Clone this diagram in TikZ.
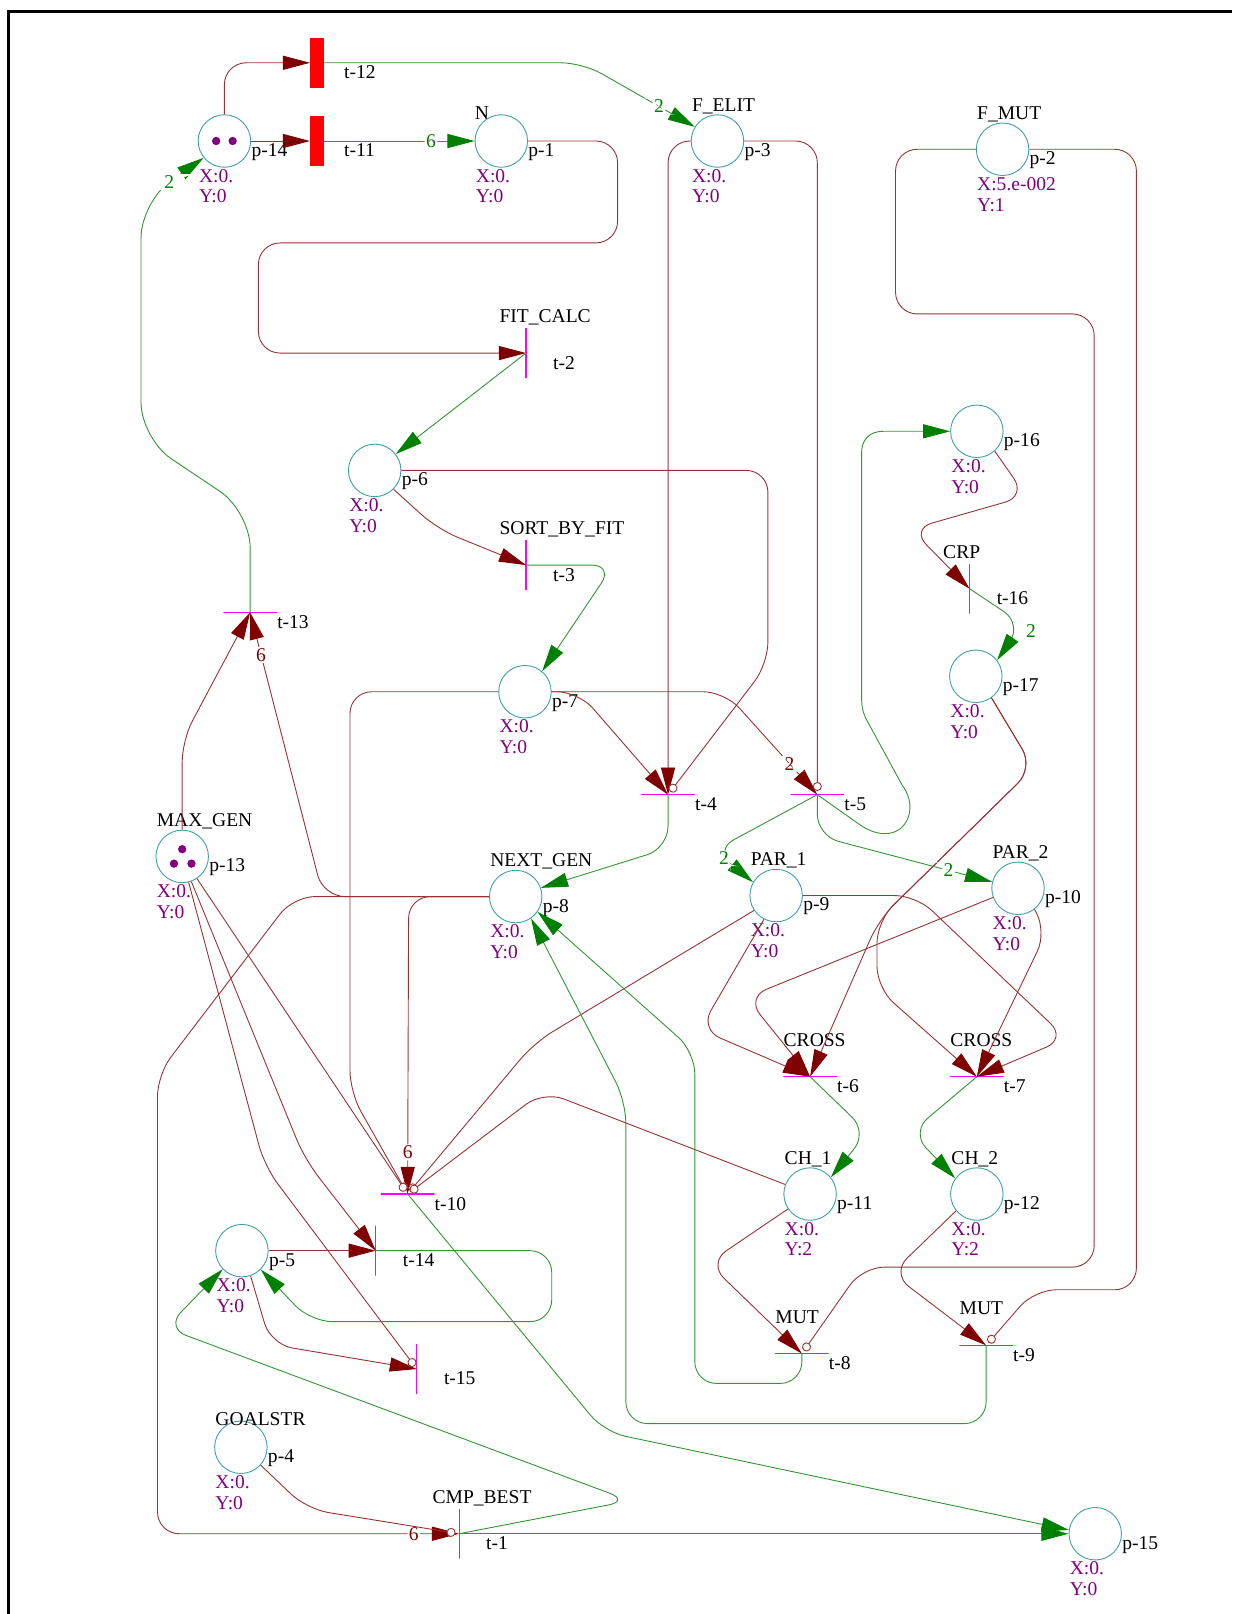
\documentclass[tikz,border=0pt]{standalone}
\usepackage{fontspec}
\setmainfont{Liberation Serif}
\usetikzlibrary{arrows.meta}
\definecolor{plc}{RGB}{64,160,168}
\definecolor{trc}{RGB}{255,0,255}
\definecolor{inl}{RGB}{155,50,50}
\definecolor{inh}{RGB}{128,0,0}
\definecolor{outl}{RGB}{50,150,50}
\definecolor{outh}{RGB}{0,128,0}
\definecolor{tok}{RGB}{128,0,128}

\begin{document}
\begin{tikzpicture}[x=0.02cm, y=-0.02cm, font=\fontsize{10.8}{12}\selectfont,
 place/.style={circle, draw=plc, line width=0.5pt, minimum size=1.02cm, inner sep=0pt},
 vtr/.style={draw=trc, line width=0.6pt, rectangle, minimum width=0pt, minimum height=0.97cm, inner sep=0pt},
 htr/.style={draw=trc, line width=0.8pt, rectangle, minimum width=1.04cm, minimum height=0pt, inner sep=0pt},
 bar/.style={fill=red, rectangle, minimum width=0.26cm, minimum height=0.97cm, inner sep=0pt},
 arcin/.style={draw=inl, line width=0.5pt, rounded corners=12pt, -{Triangle[length=15pt, width=7.8pt, color=inh]}},
 arcout/.style={draw=outl, line width=0.5pt, rounded corners=12pt, -{Triangle[length=15pt, width=7.8pt, color=outh]}},
 arcinh/.style={draw=inl, line width=0.5pt, rounded corners=12pt, shorten >=2pt, -{Circle[length=5pt, color=inl, fill=white]}},
 lbl/.style={anchor=base west, inner sep=0pt},
 val/.style={lbl, text=tok},
 wtr/.style={fill=white, inner sep=0.8pt, text=inh},
 wtg/.style={fill=white, inner sep=0.8pt, text=outh}]
\useasboundingbox (0,0) rectangle (1197,1568);
\draw[line width=1.5pt] (8,1568) -- (8,11) -- (1197,11);

% places
\foreach \n/\cx/\cy/\vx/\vy in {14/218/137/0./0, 1/487/137/0./0, 3/697/137/0./0, 2/974/145/5.e-002/1,
 6/364/457/0./0, 7/510/672/0./0, 16/949/419/0./0, 17/948/657/0./0,
 13/177/832/0./0, 8/501/871/0./0, 9/754/870/0./0, 10/989/863/0./0,
 11/787/1160/0./2, 12/949/1160/0./2, 5/235/1215/0./0, 4/234/1406/0./0, 15/1064/1490/0./0}
{
 \node[place] (p\n) at (\cx,\cy) {};
 \node[lbl] at ([shift={(26,15)}]p\n.center) {p-\n};
 \node[val] at ([shift={(-25,40)}]p\n.center) {X:\vx};
 \node[val] at ([shift={(-25,60)}]p\n.center) {Y:\vy};
}
\node[lbl] at ([shift={(-26,-21)}]p1.center) {N};
\node[lbl] at ([shift={(-25,-21)}]p4.center) {GOALSTR};
\foreach \n/\txt in {3/F\_ELIT, 2/F\_MUT, 13/MAX\_GEN, 8/NEXT\_GEN, 9/PAR\_1, 10/PAR\_2, 11/CH\_1, 12/CH\_2}
 \node[lbl] at ([shift={(-25,-29)}]p\n.center) {\txt};

% tokens
\foreach \dx in {-8,8}
 \fill[tok] ([shift={(\dx,0)}]p14.center) circle (2.3pt);
\foreach \dx/\dy in {0/-7,-8/7,9/7}
 \fill[tok] ([shift={(\dx,\dy)}]p13.center) circle (2.3pt);

% transitions
\foreach \n/\cx/\cy/\s in {2/511/343/vtr, 3/511/549/vtr, 16/942/572/vtr, 14/365/1215/vtr, 15/405/1330/vtr,
 1/446/1490/vtr, 13/243/595/htr, 4/649/772/htr, 5/794/772/htr, 6/787/1046/htr, 7/949/1046/htr,
 10/396/1160/htr, 8/779/1315/htr, 9/958/1307/htr, 12/308/61/bar, 11/308/137/bar}
{
 \node[\s] (t\n) at (\cx,\cy) {};
 \node[lbl] at ([shift={(26,15.5)}]t\n.center) {t-\n};
}
\foreach \n/\txt in {2/FIT\_CALC, 3/SORT\_BY\_FIT, 16/CRP, 6/CROSS, 7/CROSS, 8/MUT, 9/MUT, 1/CMP\_BEST}
 \node[lbl] at ([shift={(-26,-29.5)}]t\n.center) {\txt};

% input arcs
\draw[arcin] (p14.north) |- (t12.west);
\draw[arcin] (p14.east) -- (t11.west);
\draw[arcin] (p1.east) -- (600,137) -- (600,236) -- (251,236) -- (251,343) -- (t2.center);
\draw[arcin] (p6.-45) -- (425,514) -- (t3.center);
\draw[arcin] (p3.west) -- (649,137) -- (t4.center);
\draw[arcin] (p7.east) -- (562,672) -- (t4.center);
\draw[arcin] (p7.east) -- (704,672) -- node[wtr, pos=.7] {2} (t5.center);
\draw[arcin] (p16.-48) -- (997,482) -- (885,514) -- (t16.center);
\draw[arcin] (p17.-54) -- (1004,746) -- (854,893) -- (t6.center);
\draw[arcin] (p17.-54) -- (1004,746) -- (852,895) -- (852,960) -- (t7.center);
\draw[arcin] (p9.-117) -- (680,1000) -- (t6.center);
\draw[arcin] (p10.200) -- (725,969) -- (t6.center);
\draw[arcin] (p9.east) -- (890,870) -- (1036,1009) -- (t7.center);
\draw[arcin] (p10.-52) -- (1017,905) -- (t7.center);
\draw[arcin] (p11.214) -- (688,1227) -- (t8.center);
\draw[arcin] (p12.219) -- (866,1237) -- (t9.center);
\draw[arcin] (p13.north) -- (177,719) -- (t13.center);
\draw[arcin] (p8.west) -- (314,871) -- node[wtr, pos=.85] {6} (t13.center);
\draw[arcin] (p8.west) -- (397,871) -- node[wtr, pos=.86] {6} (t10.center);
\draw[arcin] (p8.west) -- (285,871) -- (153,1044) -- (153,1490) -- node[wtr, pos=.85] {6} (t1.center);
\draw[arcin] (p13.-70) -- (296,1126) -- (t14.center);
\draw[arcin] (p5.east) -- (t14.center);
\draw[arcin] (p5.-71) -- (263,1306) -- (t15.center);

% inhibitor arcs
\draw[arcinh] (p6.east) -- (746,457) -- (746,645) -- (t4.center);
\draw[arcinh] (p3.east) -- (794,137) -- (t5.center);
\draw[arcinh] (p2.west) -- (870,145) -- (870,305) -- (1063,305) -- (1063,1231) -- (838,1231) -- (t8.center);
\draw[arcinh] (p2.east) -- (1104,145) -- (1104,1253) -- (1005,1253) -- (t9.center);
\draw[arcinh] (p7.west) -- (340,672) -- (340,1061) -- (t10.center);
\draw[arcinh] (p13) -- (t10.center);
\draw[arcinh] (p9.214) -- (519,1013) -- (t10.center);
\draw[arcinh] (p11.159) -- (528,1060) -- (t10.center);
\draw[arcinh] (p13.-76) -- (257,1133) -- (t15.center);
\draw[arcinh] (p4.-42) -- (298,1466) -- (t1.center);

% output arcs
\draw[arcout] (t12.east) -- (566,61) -- node[wtg, pos=.68] {2} (p3.148);
\draw[arcout] (t11.east) -- node[wtg, pos=.71] {6} (p1.west);
\draw[arcout] (t2.center) -- (p6);
\draw[arcout] (t3.center) -- (596,549) -- (p7.50);
\draw[arcout, sharp corners] (t5.center) -- (835,801) .. controls (855,815) and (875,812) .. (882,795)
 .. controls (887,782) and (882,770) .. (876,762) -- (845,705) .. controls (838,693) and (837,688) .. (837,675)
 -- (837,440) .. controls (837,427) and (845,419) .. (858,419) -- (p16.west);
\draw[arcout] (t5.center) -- (694,826) -- node[wtg, pos=.25] {2} (p9.150);
\draw[arcout] (t5.center) -- (794,812) -- node[wtg, pos=.75] {2} (p10.166);
\draw[arcout] (t16.center) -- (993,606) node[text=outh, anchor=north west, inner sep=0pt, xshift=2pt] {2} -- (p17.37);
\draw[arcout] (t6.center) -- (843,1100) -- (p11.39);
\draw[arcout] (t7.center) -- (885,1100) -- (p12.144);
\draw[arcout] (t8.center) -- (779,1344) -- (675,1344) -- (675,1022) -- (p8.-35);
\draw[arcout] (t9.center) -- (958,1383) -- (608,1383) -- (608,1070) -- (p8.-55);
\draw[arcout] (t4.center) -- (649,824) -- (p8.19);
\draw[arcout, rounded corners=20pt] (t13.center) -- (243,497) -- (137,426) -- (137,196) -- node[wtg, pos=.45] {2} (p14.219);
\draw[arcout] (t10.center) -- (587,1391) -- (p15.172);
\draw[arcout] (t1.center) -- (p15.west);
\draw[arcout] (t1.center) -- (612,1458) -- (161,1290) -- (p5.224);
\draw[arcout] (t14.center) -- (536,1215) -- (536,1284) -- (302,1284) -- (p5.-45);
\end{tikzpicture}
\end{document}
